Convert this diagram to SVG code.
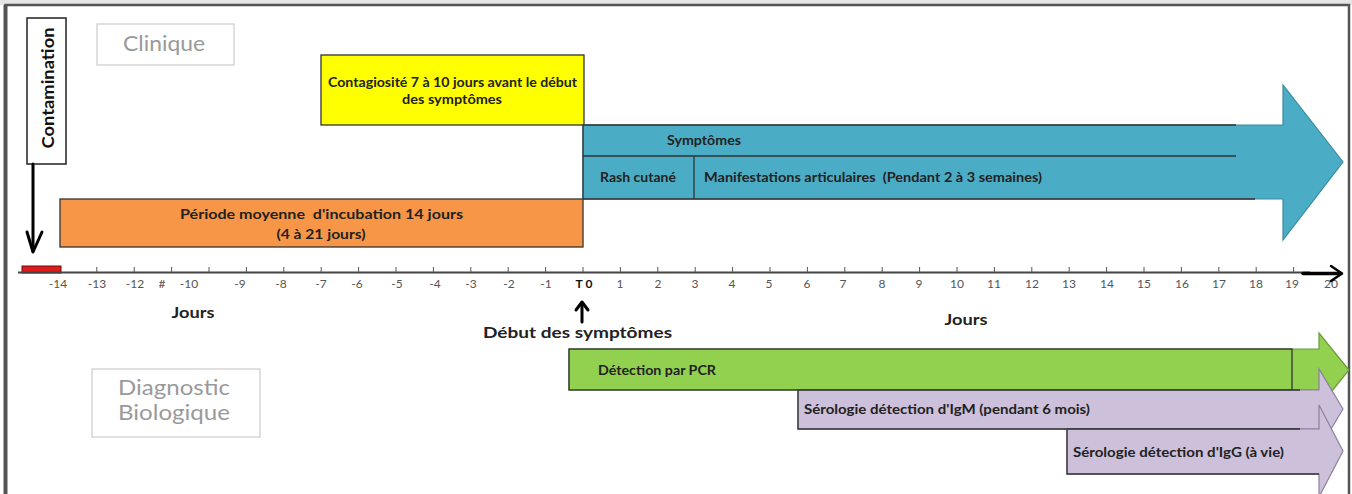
<svg xmlns="http://www.w3.org/2000/svg" width="1352" height="494" viewBox="0 0 1352 494">
<style>
.b{font-family:Lato,"Liberation Sans",sans-serif;font-weight:bold;font-size:12.5px;fill:#222}
.t{font-family:Lato,"Liberation Sans",sans-serif;font-size:12px;fill:#555;text-anchor:middle}
.h{font-family:Lato,"Liberation Sans",sans-serif;font-size:21px;fill:#9a9a9a;text-anchor:middle}
.j{font-family:Lato,"Liberation Sans",sans-serif;font-weight:bold;font-size:15px;fill:#222;text-anchor:middle}
.ln{stroke:#333;stroke-width:1.3;fill:none}
.tk{stroke:#555;stroke-width:1}
</style>
<rect x="0" y="0" width="1352" height="5" fill="#e6e6e6"/>
<path d="M5.5,494 V5 H1349 V494" fill="none" stroke="#555" stroke-width="2.5"/>
<rect x="3.5" y="5" width="4" height="489" fill="#555"/>

<g id="clinique"><rect x="97" y="24" width="137" height="41" fill="#fff" stroke="#ccc" stroke-width="1.2"/><text class="h" x="164" y="51" textLength="82" lengthAdjust="spacingAndGlyphs">Clinique</text></g>
<g id="diagnostic"><rect x="92" y="369" width="168" height="68" fill="#fff" stroke="#ccc" stroke-width="1.2"/><text class="h" x="174" y="395" textLength="112" lengthAdjust="spacingAndGlyphs">Diagnostic</text><text class="h" x="174" y="420" textLength="112" lengthAdjust="spacingAndGlyphs">Biologique</text></g>

<g id="contamination"><rect x="27" y="18" width="39" height="146" fill="#fff" stroke="#222" stroke-width="1.5"/><text class="b" style="font-size:17px;fill:#111" text-anchor="middle" transform="translate(54,88) rotate(-90)" textLength="121" lengthAdjust="spacingAndGlyphs">Contamination</text></g>

<g id="contagiosite"><rect x="321" y="55" width="263" height="70" fill="#ffff00" stroke="#333" stroke-width="1.3"/><text class="b" x="452.5" y="87" text-anchor="middle" textLength="249" lengthAdjust="spacingAndGlyphs">Contagiosité 7 à 10 jours avant le début</text><text class="b" x="452" y="104" text-anchor="middle" textLength="100" lengthAdjust="spacingAndGlyphs">des symptômes</text></g>

<g id="incubation"><rect x="60" y="199" width="523" height="48" fill="#f79646" stroke="#333" stroke-width="1.3"/><text class="b" x="321.5" y="219" text-anchor="middle" textLength="283" lengthAdjust="spacingAndGlyphs">Période moyenne&#160; d'incubation 14 jours</text><text class="b" x="321" y="239" text-anchor="middle" textLength="89" lengthAdjust="spacingAndGlyphs">(4 à 21 jours)</text></g>

<g id="symptomes"><polygon points="583,125 1283,125 1283,85 1343,162 1283,240 1283,199 583,199" fill="#4bacc6" stroke="#3a8aa0" stroke-width="1.2"/><path class="ln" d="M1236,125 H583 V199 H1255 M583,156 H1236 M694,156 V199"/><text class="b" x="704" y="145" text-anchor="middle" textLength="74" lengthAdjust="spacingAndGlyphs">Symptômes</text><text class="b" x="638" y="182" text-anchor="middle" textLength="76" lengthAdjust="spacingAndGlyphs">Rash cutané</text><text class="b" x="704" y="182" textLength="338" lengthAdjust="spacingAndGlyphs">Manifestations articulaires&#160; (Pendant 2 à 3 semaines)</text></g>

<g id="axis"><rect x="22" y="266" width="39" height="7" fill="#e01b1b" stroke="#6b0d0d" stroke-width="1"/><line x1="18" y1="272.5" x2="1310" y2="272.5" stroke="#444" stroke-width="1.8"/>
<path class="tk" d="M96.8,267V272 M134.2,267V272 M171.6,267V272 M209,267V272 M246.4,267V272 M283.8,267V272 M321.2,267V272 M358.6,267V272 M396,267V272 M433.4,267V272 M470.8,267V272 M508.2,267V272 M545.6,267V272 M583,267V272 M620.4,267V272 M657.8,267V272 M695.2,267V272 M732.6,267V272 M770,267V272 M807.4,267V272 M844.8,267V272 M882.2,267V272 M919.6,267V272 M957,267V272 M994.4,267V272 M1031.8,267V272 M1069.2,267V272 M1106.6,267V272 M1144,267V272 M1181.4,267V272 M1218.8,267V272 M1256.2,267V272 M1293.6,267V272"/>
<text class="t" x="58" y="288">-14</text><text class="t" x="97" y="288">-13</text><text class="t" x="135" y="288">-12</text><text class="t" x="162" y="288">#</text><text class="t" x="189" y="288">-10</text><text class="t" x="240" y="288">-9</text><text class="t" x="281" y="288">-8</text><text class="t" x="321" y="288">-7</text><text class="t" x="357" y="288">-6</text><text class="t" x="397" y="288">-5</text><text class="t" x="435" y="288">-4</text><text class="t" x="471" y="288">-3</text><text class="t" x="509" y="288">-2</text><text class="t" x="546" y="288">-1</text>
<text class="t" x="584" y="288" style="font-weight:bold;fill:#111" textLength="17" lengthAdjust="spacing">T0</text>
<text class="t" x="620" y="288">1</text><text class="t" x="658" y="288">2</text><text class="t" x="695" y="288">3</text><text class="t" x="732" y="288">4</text><text class="t" x="769" y="288">5</text><text class="t" x="807" y="288">6</text><text class="t" x="843" y="288">7</text><text class="t" x="882" y="288">8</text><text class="t" x="919" y="288">9</text><text class="t" x="957" y="288">10</text><text class="t" x="994" y="288">11</text><text class="t" x="1032" y="288">12</text><text class="t" x="1069" y="288">13</text><text class="t" x="1107" y="288">14</text><text class="t" x="1144" y="288">15</text><text class="t" x="1182" y="288">16</text><text class="t" x="1219" y="288">17</text><text class="t" x="1256" y="288">18</text><text class="t" x="1292" y="288">19</text><text class="t" x="1331" y="288">20</text>
<text class="j" x="193" y="318" textLength="43" lengthAdjust="spacingAndGlyphs">Jours</text><text class="j" x="966" y="325" textLength="43" lengthAdjust="spacingAndGlyphs">Jours</text>
<text class="j" style="font-size:16px" x="577.5" y="338" textLength="189" lengthAdjust="spacingAndGlyphs">Début des symptômes</text>
</g>

<g id="connectors" fill="none" stroke="#000" stroke-linecap="round" stroke-linejoin="round">
<path d="M33,164 V251" stroke-width="3"/><path d="M27,232 L33,252 L42,232" stroke-width="3"/>
<path d="M1303,273.5 H1341" stroke-width="3.5"/><path d="M1331,266 L1342,273.5 L1331,281" stroke-width="2.5"/>
<path d="M582,322 V303" stroke-width="3"/><path d="M576,310 L582,302 L588,310" stroke-width="3"/>
</g>

<g id="pcr"><polygon points="569,349 1319,349 1319,333 1349,370 1319,407 1319,390 569,390" fill="#92d050" stroke="#6b9a3a" stroke-width="1.2"/><rect class="ln" x="569" y="349" width="723" height="41"/><text class="b" x="598" y="375" textLength="118" lengthAdjust="spacingAndGlyphs">Détection par PCR</text></g>
<g id="igm"><polygon points="798,390 1319,390 1319,369 1343,409 1319,449 1319,429 798,429" fill="#ccc0da" stroke="#8b80a0" stroke-width="1.2"/><path class="ln" d="M1300,390 H798 V429 H1300"/><text class="b" x="804" y="414" textLength="286" lengthAdjust="spacingAndGlyphs">Sérologie détection d'IgM (pendant 6 mois)</text></g>
<g id="igg"><polygon points="1067,429 1319,429 1319,405 1343,451 1319,497 1319,474 1067,474" fill="#ccc0da" stroke="#8b80a0" stroke-width="1.2"/><path class="ln" d="M1300,429 H1067 V474 H1319"/><text class="b" x="1073" y="457" textLength="211" lengthAdjust="spacingAndGlyphs">Sérologie détection d'IgG (à vie)</text></g>
</svg>
